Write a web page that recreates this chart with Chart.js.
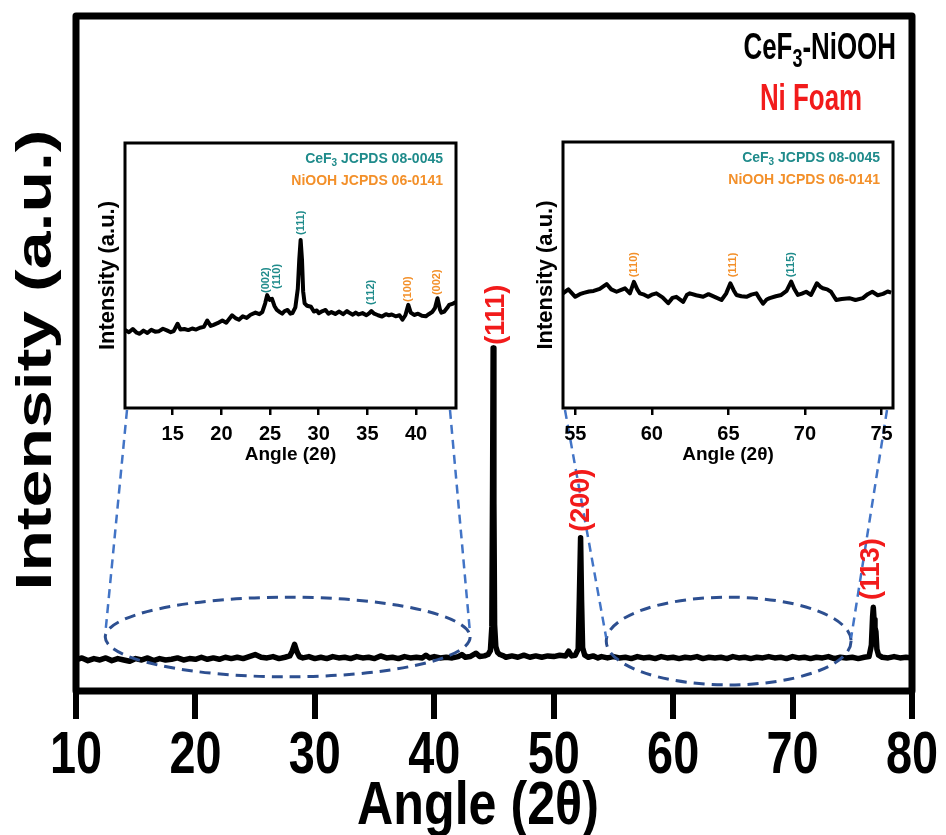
<!DOCTYPE html>
<html>
<head>
<meta charset="utf-8">
<script src="https://cdn.jsdelivr.net/npm/chart.js@4.4.1/dist/chart.umd.min.js"></script>
<style>
  html, body { margin: 0; padding: 0; background: #fff; }
  #wrap { position: relative; width: 946px; height: 835px; overflow: hidden; }
  #wrap canvas { position: absolute; }
</style>
</head>
<body>
<div id="wrap">
  <canvas id="mainChart" width="946" height="835" style="left:0;top:0"></canvas>
  <canvas id="insetLow"></canvas>
  <canvas id="insetHigh"></canvas>
</div>
<script>
/* ---------- data: full scan 10-80 deg ---------- */
const mainAngle = [
  10.0, 10.5, 11.0, 11.5, 12.0, 12.5, 13.0, 13.5, 14.0, 14.5, 15.0, 15.5, 16.0, 16.5, 17.0, 17.5,
  18.0, 18.5, 19.0, 19.5, 20.0, 20.5, 21.0, 21.5, 22.0, 22.5, 23.0, 23.5, 24.0, 24.5, 25.0, 25.5,
  26.0, 26.5, 27.0, 27.5, 27.9, 28.1, 28.3, 28.5, 28.7, 29.0, 29.5, 30.0, 30.5, 31.0, 31.5, 32.0,
  32.5, 33.0, 33.5, 34.0, 34.5, 35.0, 35.5, 36.0, 36.5, 37.0, 37.5, 38.0, 38.5, 39.0, 39.3, 39.6,
  40.0, 40.5, 41.0, 41.5, 42.0, 42.3, 42.6, 43.0, 43.5, 43.8, 44.2, 44.5, 44.7, 44.82, 44.88, 44.93,
  44.99, 45.05, 45.15, 45.3, 45.5, 45.8, 46.0, 46.5, 47.0, 47.5, 48.0, 48.5, 49.0, 49.5, 50.0, 50.5,
  51.0, 51.25, 51.5, 51.8, 52.05, 52.15, 52.25, 52.33, 52.42, 52.6, 52.9, 53.3, 53.7, 54.0, 54.5, 55.0,
  55.5, 56.0, 56.5, 57.0, 57.5, 58.0, 58.5, 59.0, 59.5, 60.0, 60.5, 61.0, 61.5, 62.0, 62.5, 63.0,
  63.5, 64.0, 64.5, 65.0, 65.5, 66.0, 66.5, 67.0, 67.5, 68.0, 68.5, 69.0, 69.5, 70.0, 70.5, 71.0,
  71.5, 72.0, 72.5, 73.0, 73.5, 74.0, 74.5, 75.0, 75.5, 76.0, 76.4, 76.6, 76.7, 76.76, 76.82, 76.9,
  76.98, 77.06, 77.2, 77.5, 78.0, 78.5, 79.0, 79.5, 80.0
];
const mainIntensity = [
  4.6, 4.9, 4.5, 4.8, 4.6, 4.9, 4.5, 4.8, 4.6, 4.4, 4.8, 4.6, 4.9, 4.5, 4.8, 4.6,
  4.7, 4.9, 4.6, 4.8, 4.7, 5.0, 4.7, 4.9, 4.7, 5.0, 4.8, 5.0, 4.8, 5.1, 5.4, 5.0,
  4.9, 5.1, 4.8, 5.0, 5.2, 5.9, 6.9, 5.8, 5.1, 4.9, 5.1, 4.8, 5.0, 4.8, 5.1, 4.9,
  5.0, 4.8, 5.1, 4.9, 5.0, 4.8, 5.2, 4.9, 5.0, 4.8, 5.1, 4.9, 5.0, 4.9, 5.3, 4.9,
  5.1, 4.9, 5.0, 4.9, 5.1, 5.4, 5.0, 5.1, 5.6, 5.1, 5.2, 5.4, 6.0, 9.5, 30.0, 50.8,
  28.0, 9.8, 6.6, 5.7, 5.4, 5.2, 5.0, 5.2, 5.0, 5.3, 5.0, 5.2, 5.0, 5.2, 5.1, 5.3,
  5.2, 5.9, 5.2, 5.3, 6.2, 14.0, 22.7, 13.5, 6.4, 5.3, 5.0, 5.2, 4.9, 5.1, 4.9, 5.1,
  4.9, 5.0, 4.8, 5.1, 4.9, 5.0, 4.8, 5.1, 4.9, 5.0, 4.8, 5.0, 4.9, 5.1, 4.8, 5.0,
  4.9, 5.0, 4.8, 5.1, 4.9, 5.0, 4.8, 5.0, 4.9, 5.1, 4.9, 5.0, 4.8, 5.1, 4.9, 5.0,
  4.8, 5.0, 4.9, 5.1, 4.8, 5.0, 4.9, 5.0, 4.8, 5.0, 5.1, 6.8, 11.0, 12.4, 10.6, 9.4,
  8.8, 6.2, 5.3, 5.0, 4.9, 5.1, 4.9, 5.0, 4.9
];
const mainTicks = [10, 20, 30, 40, 50, 60, 70, 80];
const mainPeakText = ['(111)', '(200)', '(113)'];
const mainPeakAngle = [45.25, 52.37, 76.65];
const mainPeakValue = [51.3, 23.6, 13.5];

/* ---------- data: low-angle inset 10-44 deg ---------- */
const lowAngle = [
  10.1, 10.5, 10.9, 11.3, 11.6, 12.0, 12.4, 12.8, 13.2, 13.6, 14.0, 14.4, 14.8, 15.1, 15.5, 15.8,
  16.2, 16.6, 17.0, 17.4, 17.8, 18.2, 18.55, 18.9, 19.2, 19.6, 20.1, 20.5, 20.8, 21.1, 21.5, 21.8,
  22.2, 22.6, 23.0, 23.5, 23.9, 24.2, 24.5, 24.7, 24.95, 25.2, 25.45, 25.7, 26.0, 26.25, 26.5, 26.8,
  27.1, 27.3, 27.6, 27.85, 28.0, 28.14, 28.28, 28.4, 28.55, 28.8, 29.2, 29.5, 29.8, 30.0, 30.4, 30.7,
  31.0, 31.3, 31.7, 32.1, 32.5, 32.9, 33.1, 33.5, 33.8, 34.1, 34.5, 34.9, 35.2, 35.4, 35.7, 36.1,
  36.5, 36.9, 37.2, 37.5, 37.9, 38.3, 38.6, 38.9, 39.2, 39.45, 39.8, 40.2, 40.6, 41.0, 41.3, 41.65,
  41.95, 42.2, 42.45, 42.6, 42.9, 43.2, 43.4, 43.8, 44.1
];
const lowIntensity = [
  29.4, 28.6, 29.8, 28.4, 28.0, 29.2, 28.3, 29.5, 28.8, 29.0, 29.9, 29.3, 28.6, 29.0, 31.8, 29.6,
  29.8, 29.4, 30.0, 29.6, 30.3, 30.6, 33.0, 31.0, 31.4, 32.0, 33.0, 32.2, 33.6, 35.0, 33.8, 33.3,
  34.6, 34.0, 35.2, 36.0, 35.4, 36.2, 39.5, 42.6, 40.8, 41.2, 38.5, 37.0, 36.2, 35.6, 36.6, 37.0,
  35.6, 35.8, 38.0, 45.0, 56.0, 63.4, 56.0, 44.0, 39.5, 38.6, 38.2, 36.4, 36.8, 35.8, 36.6, 37.0,
  35.6, 36.2, 35.5, 36.4, 35.4, 36.6, 36.0, 35.2, 36.0, 35.3, 35.8, 35.0, 35.8, 36.6, 35.6, 35.0,
  34.5, 35.4, 35.0, 35.3, 34.6, 35.0, 33.3, 35.0, 38.9, 36.0, 35.1, 35.6, 34.8, 34.6, 35.4, 36.2,
  37.8, 41.4, 37.2, 36.0, 36.4, 37.8, 38.9, 39.4, 40.0
];
const lowTicks = [15, 20, 25, 30, 35, 40];
const lowPeakText = ['(002)', '(110)', '(111)', '(112)', '(100)', '(002)'];
const lowPeakAngle = [24.55, 25.74, 28.14, 35.4, 39.2, 42.17];
const lowPeakValue = [43.4, 44.9, 65.3, 38.9, 40.0, 42.6];
const lowPeakPhase = ['CeF3', 'CeF3', 'CeF3', 'CeF3', 'NiOOH', 'NiOOH'];

/* ---------- data: high-angle inset 54-76 deg ---------- */
const highAngle = [
  54.2, 54.55, 55.0, 55.3, 55.55, 55.9, 56.2, 56.6, 57.05, 57.35, 57.7, 58.0, 58.25, 58.57, 58.83, 59.05,
  59.22, 59.5, 59.76, 60.0, 60.3, 60.7, 61.07, 61.35, 61.6, 62.05, 62.3, 62.48, 62.9, 63.35, 63.7, 64.1,
  64.55, 64.85, 65.13, 65.35, 65.53, 65.85, 66.18, 66.5, 66.83, 67.05, 67.26, 67.5, 67.7, 68.1, 68.45, 68.8,
  69.1, 69.3, 69.54, 69.8, 70.08, 70.4, 70.78, 71.0, 71.17, 71.45, 71.7, 72.04, 72.4, 72.9, 73.3, 73.78,
  74.1, 74.4, 74.75, 75.1, 75.4, 75.63
];
const highIntensity = [
  43.1, 44.6, 41.8, 42.8, 43.3, 43.8, 44.0, 44.8, 46.6, 44.6, 43.7, 44.4, 45.0, 43.1, 47.4, 44.6,
  43.1, 42.6, 41.8, 42.6, 43.1, 41.6, 39.4, 41.4, 41.8, 39.9, 42.6, 43.1, 42.4, 41.8, 42.8, 41.8,
  40.6, 43.0, 46.9, 44.2, 42.5, 42.0, 41.8, 42.6, 43.1, 41.0, 39.2, 40.8, 41.3, 42.0, 42.5, 44.0,
  47.5, 44.8, 42.5, 43.0, 43.7, 42.5, 46.9, 45.6, 45.0, 44.6, 43.7, 40.6, 41.0, 41.3, 40.6, 41.3,
  42.8, 43.7, 42.4, 42.9, 43.8, 43.4
];
const highTicks = [55, 60, 65, 70, 75];
const highPeakText = ['(110)', '(111)', '(115)'];
const highPeakAngle = [58.83, 65.28, 69.06];
const highPeakValue = [49.2, 49.2, 49.2];
const highPeakPhase = ['NiOOH', 'NiOOH', 'CeF3'];

/* ---------- styling ---------- */
const SANS = '"Liberation Sans", Arial, Helvetica, sans-serif';
const RED = '#f21b1b';
const TEAL = '#1f8b8b';
const ORANGE = '#f3902a';
const phaseColor = { CeF3: TEAL, NiOOH: ORANGE };

// inset frames in page pixels
const insetBoxes = {
  low:  { left: 125, top: 143, right: 456, bottom: 408 },
  high: { left: 563, top: 142, right: 893, bottom: 408 }
};
const INSET_PAD = { left: 55, top: 8, right: 14, bottom: 67 };

function points(xs, ys) {
  return xs.map((x, i) => ({ x: x, y: ys[i] }));
}

// text with optional rotation and a horizontal squeeze (along the glyph width)
function squeezed(ctx, text, x, y, opt) {
  ctx.save();
  ctx.translate(x, y);
  if (opt.rotate) ctx.rotate(opt.rotate);
  ctx.scale(opt.sx || 1, opt.sy || 1);
  ctx.font = opt.font;
  ctx.fillStyle = opt.color || '#000';
  ctx.textAlign = opt.align || 'center';
  ctx.textBaseline = 'middle';
  ctx.fillText(text, 0, 0);
  ctx.restore();
}

// text with a subscript part, right aligned at xRight
function formulaText(ctx, parts, xRight, y, size, color, sx) {
  ctx.save();
  ctx.translate(xRight, y);
  ctx.scale(sx || 1, 1);
  ctx.fillStyle = color;
  ctx.textBaseline = 'middle';
  ctx.textAlign = 'left';
  const fonts = parts.map(p => 'bold ' + (p.sub ? Math.round(size * 0.7) : size) + 'px ' + SANS);
  let total = 0;
  const widths = parts.map((p, i) => { ctx.font = fonts[i]; const w = ctx.measureText(p.t).width; total += w; return w; });
  let x = -total;
  parts.forEach((p, i) => {
    ctx.font = fonts[i];
    ctx.fillText(p.t, x, p.sub ? size * 0.3 : 0);
    x += widths[i];
  });
  ctx.restore();
}

/* ---------- main chart decorations ---------- */
const zoomEllipses = [
  { from: 12.45, to: 43.0, mid: 8.0, half: 5.9, box: 'low' },
  { from: 54.4, to: 74.9, mid: 7.4, half: 6.5, box: 'high' }
];

const mainDecor = {
  id: 'mainDecor',
  afterDatasetsDraw(chart) {
    const { ctx, chartArea: a, scales: { x, y } } = chart;
    ctx.save();

    // zoom ellipses + connectors to the inset frames
    zoomEllipses.forEach(e => {
      const x0 = x.getPixelForValue(e.from), x1 = x.getPixelForValue(e.to);
      const yc = y.getPixelForValue(e.mid);
      const ry = y.getPixelForValue(e.mid - e.half) - yc;
      const cx = (x0 + x1) / 2, rx = (x1 - x0) / 2;
      ctx.setLineDash([11, 7]);
      ctx.lineWidth = 3;
      ctx.strokeStyle = '#2d4f90';
      ctx.beginPath();
      ctx.ellipse(cx, yc, rx, ry, 0, 0, Math.PI * 2);
      ctx.stroke();

      const b = insetBoxes[e.box];
      ctx.setLineDash([9, 6]);
      ctx.lineWidth = 2.5;
      ctx.strokeStyle = '#4274c6';
      ctx.beginPath();
      ctx.moveTo(b.left + 2, b.bottom + 2);
      ctx.lineTo(x0, yc - 3);
      ctx.moveTo(b.right - 6, b.bottom + 2);
      ctx.lineTo(x1, yc - 3);
      ctx.stroke();
    });
    ctx.setLineDash([]);

    // frame
    ctx.lineWidth = 7;
    ctx.lineJoin = 'round';
    ctx.strokeStyle = '#000';
    ctx.strokeRect(a.left, a.top, a.right - a.left, a.bottom - a.top);

    // peak indices
    mainPeakText.forEach((t, i) => {
      squeezed(ctx, t, x.getPixelForValue(mainPeakAngle[i]), y.getPixelForValue(mainPeakValue[i]),
        { font: 'bold 27px ' + SANS, color: RED, rotate: -Math.PI / 2, align: 'left' });
    });

    // sample names
    formulaText(ctx, [{ t: 'CeF' }, { t: '3', sub: true }, { t: '-NiOOH' }], 896, 49, 36, '#000', 0.72);
    squeezed(ctx, 'Ni Foam', 811, 100, { font: 'bold 36px ' + SANS, color: RED, sx: 0.72 });

    // axis texts (condensed bold)
    x.ticks.forEach(t => {
      squeezed(ctx, t.label, x.getPixelForValue(t.value), 756, { font: 'bold 60px ' + SANS, sx: 0.78 });
    });
    squeezed(ctx, 'Angle (2θ)', 478, 807, { font: 'bold 62px ' + SANS, sx: 0.81 });
    squeezed(ctx, 'Intensity (a.u.)', 37, 360, { font: 'bold 68px ' + SANS, rotate: -Math.PI / 2, sy: 0.74 });
    ctx.restore();
  }
};

new Chart(document.getElementById('mainChart'), {
  type: 'line',
  data: {
    datasets: [{
      data: points(mainAngle, mainIntensity),
      borderColor: '#000',
      borderWidth: 5.5,
      borderJoinStyle: 'round',
      pointRadius: 0,
      tension: 0
    }]
  },
  options: {
    responsive: false,
    animation: false,
    layout: { padding: { left: 0, right: 34, top: 16, bottom: 0 } },
    plugins: { legend: { display: false }, tooltip: { enabled: false } },
    scales: {
      x: {
        type: 'linear', min: 10, max: 80,
        afterBuildTicks: s => { s.ticks = mainTicks.map(v => ({ value: v })); },
        afterFit: s => { s.height = 144; },
        border: { display: false },
        grid: { drawOnChartArea: false, drawTicks: true, tickLength: 28, lineWidth: 6, color: '#000' },
        ticks: { display: false }
      },
      y: {
        min: 0, max: 100,
        afterFit: s => { s.width = 76; },
        border: { display: false },
        grid: { display: false },
        ticks: { display: false }
      }
    }
  },
  plugins: [mainDecor]
});

/* ---------- insets ---------- */
function makeInset(canvasId, boxKey, xs, ys, ticks, min, max, labels) {
  const b = insetBoxes[boxKey];
  const cv = document.getElementById(canvasId);
  cv.width = b.right - b.left + INSET_PAD.left + INSET_PAD.right;
  cv.height = b.bottom - b.top + INSET_PAD.top + INSET_PAD.bottom;
  cv.style.left = (b.left - INSET_PAD.left) + 'px';
  cv.style.top = (b.top - INSET_PAD.top) + 'px';

  const decor = {
    id: 'insetDecor',
    afterDatasetsDraw(chart) {
      const { ctx, chartArea: a, scales: { x, y } } = chart;
      ctx.save();
      ctx.lineWidth = 3;
      ctx.strokeStyle = '#000';
      ctx.strokeRect(a.left, a.top, a.right - a.left, a.bottom - a.top);

      labels.text.forEach((t, i) => {
        squeezed(ctx, t, x.getPixelForValue(labels.angle[i]), y.getPixelForValue(labels.value[i]),
          { font: 'bold 11px ' + SANS, color: phaseColor[labels.phase[i]], rotate: -Math.PI / 2, align: 'left' });
      });

      formulaText(ctx, [{ t: 'CeF' }, { t: '3', sub: true }, { t: ' JCPDS 08-0045' }], a.right - 13, a.top + 16, 14, TEAL);
      formulaText(ctx, [{ t: 'NiOOH JCPDS 06-0141' }], a.right - 13, a.top + 38, 14, ORANGE);
      ctx.restore();
    }
  };

  return new Chart(cv, {
    type: 'line',
    data: {
      datasets: [{
        data: points(xs, ys),
        borderColor: '#000',
        borderWidth: 4,
        borderJoinStyle: 'round',
        pointRadius: 0,
        tension: 0
      }]
    },
    options: {
      responsive: false,
      animation: false,
      layout: { padding: { left: 0, right: INSET_PAD.right, top: INSET_PAD.top, bottom: 0 } },
      plugins: { legend: { display: false }, tooltip: { enabled: false } },
      scales: {
        x: {
          type: 'linear', min: min, max: max,
          afterBuildTicks: s => { s.ticks = ticks.map(v => ({ value: v })); },
          afterFit: s => { s.height = INSET_PAD.bottom; },
          border: { display: false },
          grid: { drawOnChartArea: false, drawTicks: true, tickLength: 7, lineWidth: 2.5, color: '#000' },
          ticks: { color: '#000', padding: 7, maxRotation: 0, font: { family: SANS, size: 20, weight: 'bold' } },
          title: {
            display: true, text: 'Angle (2θ)', color: '#000',
            font: { family: SANS, size: 19, weight: 'bold', lineHeight: 1 },
            padding: { top: 0, bottom: 11 }
          }
        },
        y: {
          min: 0, max: 100,
          afterFit: s => { s.width = INSET_PAD.left; },
          border: { display: false },
          grid: { display: false },
          ticks: { display: false },
          title: {
            display: true, text: 'Intensity (a.u.)', color: '#000',
            font: { family: SANS, size: 22, weight: 'bold', lineHeight: 1 },
            padding: { top: 27, bottom: 0 }
          }
        }
      }
    },
    plugins: [decor]
  });
}

makeInset('insetLow', 'low', lowAngle, lowIntensity, lowTicks, 10.1, 44.1,
  { text: lowPeakText, angle: lowPeakAngle, value: lowPeakValue, phase: lowPeakPhase });
makeInset('insetHigh', 'high', highAngle, highIntensity, highTicks, 54.2, 75.75,
  { text: highPeakText, angle: highPeakAngle, value: highPeakValue, phase: highPeakPhase });
</script>
</body>
</html>
